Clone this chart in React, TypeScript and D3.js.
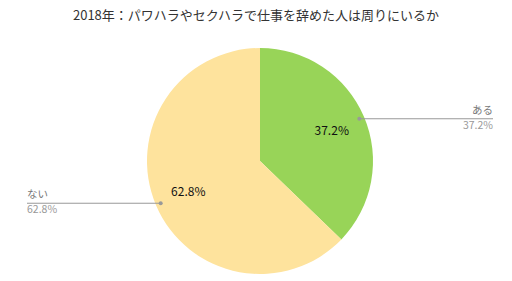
import React from "react";
import * as d3 from "d3";

const categories = ["ある", "ない"];
const values = [37.2, 62.8];
const colors = ["#98d458", "#fee39d"];
const title = "2018年：パワハラやセクハラで仕事を辞めた人は周りにいるか";

const W = 512, H = 281;
const cx = 260, cy = 161, R = 113;

export default function App() {
  const pie = d3.pie<number>().sort(null).value((d) => d);
  const arcs = pie(values);
  const arcGen = d3.arc<d3.PieArcDatum<number>>().innerRadius(0).outerRadius(R);
  const inner = d3.arc<d3.PieArcDatum<number>>().innerRadius(R * 0.69).outerRadius(R * 0.69);
  const dotArc = d3.arc<d3.PieArcDatum<number>>().innerRadius(R * 0.955).outerRadius(R * 0.955);
  const font = "'Noto Sans CJK JP', 'Noto Sans', sans-serif";
  return (
    <div style={{ position: "absolute", left: 0, top: 0 }}>
      <svg width={W} height={H} style={{ display: "block" }}>
        <rect width={W} height={H} fill="#fff" />
        <text x={256} y={20} textAnchor="middle" fontSize={13} fill="#333" fontFamily={font}>
          {title}
        </text>
        <g transform={`translate(${cx},${cy})`}>
          {arcs.map((a, i) => (
            <path key={i} d={arcGen(a) || ""} fill={colors[i]} />
          ))}
          {arcs.map((a, i) => {
            const [x, y] = inner.centroid(a);
            return (
              <text key={"t" + i} x={x} y={y} dy="0.35em" textAnchor="middle" fontSize={12} fill="#111" fontFamily={font}>
                {values[i].toFixed(1)}%
              </text>
            );
          })}
        </g>
        {arcs.map((a, i) => {
          const [dx, dy] = dotArc.centroid(a);
          const px = cx + dx, py = cy + dy;
          const right = dx > 0;
          const ex = right ? 493 : 27;
          return (
            <g key={"l" + i}>
              <line x1={px} y1={py} x2={ex} y2={py} stroke="#999" strokeWidth={1} />
              <circle cx={px} cy={py} r={2} fill="#999" />
              <text x={ex} y={py - 5} textAnchor={right ? "end" : "start"} fontSize={10.5} fill="#777" fontFamily={font}>
                {categories[i]}
              </text>
              <text x={ex} y={py + 10} textAnchor={right ? "end" : "start"} fontSize={10.5} fill="#999" fontFamily={font}>
                {values[i].toFixed(1)}%
              </text>
            </g>
          );
        })}
      </svg>
    </div>
  );
}
